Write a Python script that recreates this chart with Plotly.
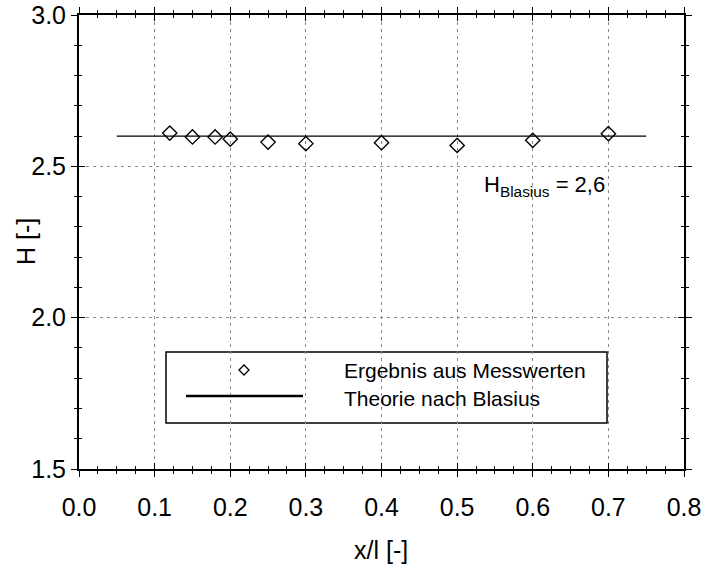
import plotly.graph_objects as go

# data
x_mess = [0.12, 0.15, 0.18, 0.20, 0.25, 0.30, 0.40, 0.50, 0.60, 0.70]
h_mess = [2.610, 2.597, 2.597, 2.590, 2.580, 2.575, 2.578, 2.569, 2.586, 2.608]
x_theo = [0.05, 0.75]
h_theo = [2.6, 2.6]
x_ticks = [0.0, 0.1, 0.2, 0.3, 0.4, 0.5, 0.6, 0.7, 0.8]
y_ticks = [1.5, 2.0, 2.5, 3.0]
legend_labels = ["Ergebnis aus Messwerten", "Theorie nach Blasius"]
annot_text = "H<sub>Blasius</sub> = 2,6"
x_title = "x/l [-]"
y_title = "H [-]"

FONT = "Liberation Sans, Arial, sans-serif"

fig = go.Figure()
fig.add_trace(go.Scatter(x=x_theo, y=h_theo, mode="lines", xaxis="x2", yaxis="y2",
                         line=dict(color="black", width=1.3),
                         showlegend=False, cliponaxis=False))
fig.add_trace(go.Scatter(x=x_mess, y=h_mess, mode="markers",
                         marker=dict(symbol="diamond-open", size=11,
                                     color="black", line=dict(width=1.4)),
                         showlegend=False, cliponaxis=False))

grid = dict(showgrid=True, gridcolor="#8a8a8a", griddash="3px,4px", gridwidth=1)

fig.update_layout(
    width=704, height=566,
    margin=dict(l=79, r=20, t=15, b=97),
    paper_bgcolor="white", plot_bgcolor="white",
    font=dict(family=FONT, color="black", size=25),
    showlegend=False,
    xaxis=dict(range=[0, 0.8], tickvals=x_ticks, ticktext=[f"{v:.1f}" for v in x_ticks],
               minor=dict(dtick=0.025, ticks="outside", ticklen=3, tickcolor="black",
                          tickwidth=1.2, showgrid=False),
               automargin=False, showline=True, linecolor="black", linewidth=2,
               zeroline=False, ticks="outside", ticklen=6, tickwidth=1.3,
               tickcolor="black", mirror="allticks", ticklabelstandoff=9, **grid),
    yaxis=dict(range=[1.5, 3.0], tickvals=y_ticks, ticktext=[f"{v:.1f}" for v in y_ticks],
               minor=dict(dtick=0.1, ticks="outside", ticklen=3, tickcolor="black",
                          tickwidth=1.2, showgrid=False),
               automargin=False, showline=True, linecolor="black", linewidth=2,
               zeroline=False, ticks="outside", ticklen=6, tickwidth=1.3,
               tickcolor="black", mirror="allticks", **grid),
    xaxis2=dict(range=[0, 0.8], overlaying="x", anchor="y2", tickvals=x_ticks,
                showticklabels=False, automargin=False,
                minor=dict(dtick=0.025, ticks="inside", ticklen=3, tickcolor="black",
                           tickwidth=1.2, showgrid=False),
                showgrid=False, showline=True, linecolor="black", linewidth=2,
                zeroline=False, ticks="inside", ticklen=6,
                tickwidth=1.3, tickcolor="black", mirror="allticks"),
    yaxis2=dict(range=[1.5, 3.0], overlaying="y", anchor="x2", tickvals=y_ticks,
                showticklabels=False, automargin=False,
                minor=dict(dtick=0.1, ticks="inside", ticklen=3, tickcolor="black",
                           tickwidth=1.2, showgrid=False),
                showgrid=False, showline=True, linecolor="black", linewidth=2,
                zeroline=False, ticks="inside", ticklen=6,
                tickwidth=1.3, tickcolor="black", mirror="allticks"),
)

W, H = 704 - 79 - 20, 566 - 15 - 97
def px(xp):
    return (xp - 79) / W
def py(yp):
    return 1 - (yp - 15) / H

shapes = []
# white box behind annotation
shapes.append(dict(type="rect", xref="paper", yref="paper", layer="between",
                   x0=px(460), x1=px(625), y0=py(215), y1=py(150),
                   fillcolor="white", line=dict(width=0)))
# legend box
shapes.append(dict(type="rect", xref="paper", yref="paper", layer="between",
                   x0=px(166), x1=px(607), y0=py(423), y1=py(352),
                   fillcolor="white", line=dict(color="black", width=1.5)))
# legend line sample
shapes.append(dict(type="line", xref="paper", yref="paper", layer="above",
                   x0=px(186), x1=px(303), y0=py(396), y1=py(396),
                   line=dict(color="black", width=2.5)))
# legend diamond sample (pixel sized)
shapes.append(dict(type="path", xref="paper", yref="paper", layer="above",
                   xsizemode="pixel", ysizemode="pixel",
                   xanchor=px(244), yanchor=py(370),
                   path="M -5 0 L 0 5 L 5 0 L 0 -5 Z",
                   line=dict(color="black", width=1.3), fillcolor="white"))
fig.update_layout(shapes=shapes)

annots = [
    dict(xref="paper", yref="paper", x=px(342), y=py(370), xanchor="left", yanchor="middle",
         text=legend_labels[0], showarrow=False, font=dict(size=21)),
    dict(xref="paper", yref="paper", x=px(342), y=py(398), xanchor="left", yanchor="middle",
         text=legend_labels[1], showarrow=False, font=dict(size=21)),
    dict(xref="paper", yref="paper", x=px(482), y=py(186), xanchor="left", yanchor="middle",
         text=annot_text, showarrow=False, font=dict(size=22)),
    dict(xref="paper", yref="paper", x=px(381), y=py(550), xanchor="center", yanchor="middle",
         text=x_title, showarrow=False, font=dict(size=25)),
    dict(xref="paper", yref="paper", x=px(26), y=py(242), xanchor="center", yanchor="middle",
         text=y_title, textangle=-90, showarrow=False, font=dict(size=25)),
]
fig.update_layout(annotations=annots)

fig.write_html("out.html")
